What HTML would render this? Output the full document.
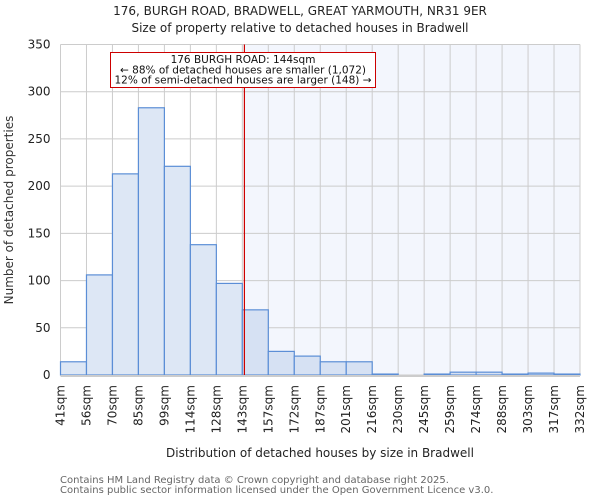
<!DOCTYPE html>
<html><head><meta charset="utf-8"><style>
body{margin:0;background:#fff;}
svg{display:block;font-family:"DejaVu Sans","Liberation Sans",sans-serif;}
</style></head><body>
<svg id="chart" width="600" height="500" viewBox="0 0 600 500">
<text x="300" y="15" text-anchor="middle" font-size="12" fill="#222">176, BURGH ROAD, BRADWELL, GREAT YARMOUTH, NR31 9ER</text>
<text x="300" y="32" text-anchor="middle" font-size="12" fill="#222">Size of property relative to detached houses in Bradwell</text>
<g id="plot"></g>
<text transform="translate(13,210) rotate(-90)" text-anchor="middle" font-size="12" fill="#333">Number of detached properties</text>
<text x="320" y="457" text-anchor="middle" font-size="12" fill="#222">Distribution of detached houses by size in Bradwell</text>
<text x="60" y="483" font-size="10" fill="#666">Contains HM Land Registry data © Crown copyright and database right 2025.</text>
<text x="60" y="493" font-size="10" fill="#666">Contains public sector information licensed under the Open Government Licence v3.0.</text>
</svg>
<script>
const binLabels=["41sqm","56sqm","70sqm","85sqm","99sqm","114sqm","128sqm","143sqm","157sqm","172sqm","187sqm","201sqm","216sqm","230sqm","245sqm","259sqm","274sqm","288sqm","303sqm","317sqm","332sqm"];
const counts=[14,106,213,283,221,138,97,69,25,20,14,14,1,0,1,3,3,1,2,1];
const yTicks=[0,50,100,150,200,250,300,350];
const propertyBin=7.08;
const NS="http://www.w3.org/2000/svg";
const L=60.5,R=580,T=44.5,B=375,yMax=350;
const n=counts.length,bw=(R-L)/n;
const xs=i=>L+i*bw;
const ys=v=>B-v/yMax*(B-T);
const g=document.getElementById('plot');
function mk(tag,at){const e=document.createElementNS(NS,tag);for(const k in at)e.setAttribute(k,at[k]);g.appendChild(e);return e;}
const px=xs(propertyBin);
let hl=mk('rect',{x:px,y:T,width:R-px,height:B-T,fill:'#f3f6fd'});


yTicks.forEach(v=>{
 let l=mk('line',{x1:L,x2:R,y1:ys(v),y2:ys(v),stroke:'#cccccc','stroke-width':1});
 
 
 let t=mk('text',{x:L-10,y:ys(v)+4,'text-anchor':'end','font-size':12,fill:'#222'});
 t.textContent=v;
 
 
});
binLabels.forEach((s,i)=>{
 let l=mk('line',{x1:xs(i),x2:xs(i),y1:T,y2:B,stroke:'#cccccc','stroke-width':1});
 
 
 let t=mk('text',{transform:`translate(${xs(i)+4},${B+10}) rotate(-90)`,'text-anchor':'end','font-size':12,fill:'#222'});
 t.textContent=s;
 
 
});
counts.forEach((c,i)=>{
 if(c<=0)return;
 let r=mk('rect',{x:xs(i),y:ys(c),width:bw,height:B-ys(c),fill:i>=7?'#d6e1f3':'#dde7f5',stroke:'#5b8ed6','stroke-width':1.2});
 
 
});
let ax=mk('line',{x1:L,x2:R,y1:B+1,y2:B+1,stroke:'#cccccc','stroke-width':2});


let ml=mk('line',{x1:px,x2:px,y1:T,y2:B,stroke:'#cc0000','stroke-width':1.2});


let box=mk('rect',{x:110.5,y:52.5,width:265,height:35,fill:'#fff',stroke:'#cc0000','stroke-width':1});


["176 BURGH ROAD: 144sqm","← 88% of detached houses are smaller (1,072)","12% of semi-detached houses are larger (148) →"].forEach((s,k)=>{
 let t=mk('text',{x:243,y:63+k*10.3,'text-anchor':'middle','font-size':10.5,fill:'#111'});
 t.textContent=s;
 
 
});
</script>
</body></html>
